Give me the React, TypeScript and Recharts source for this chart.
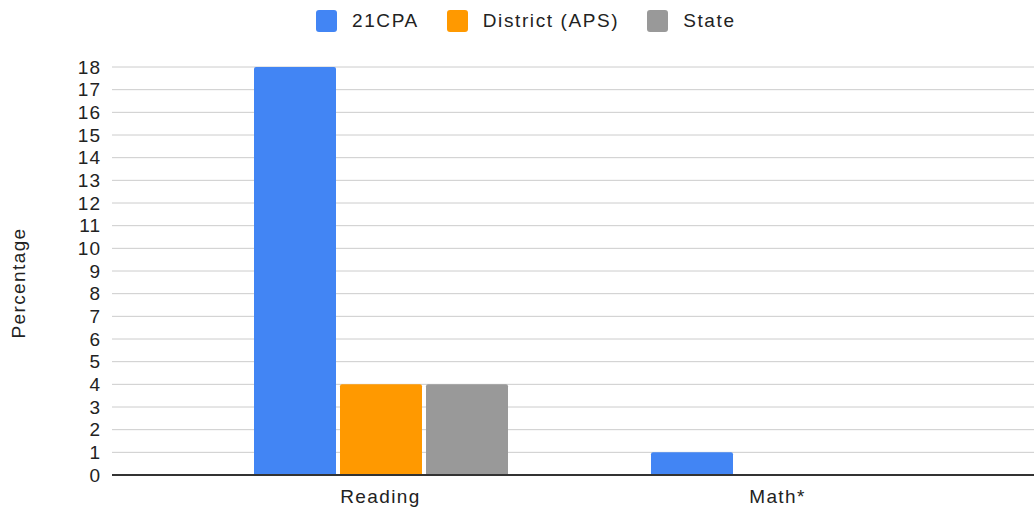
import React from "react";
import { BarChart, Bar, XAxis, YAxis, CartesianGrid, Label } from "recharts";

const categories = ["Reading", "Math*"];
const cpa21 = [18, 1];
const district = [4, 0];
const state = [4, 0];
const yTicks = [0, 1, 2, 3, 4, 5, 6, 7, 8, 9, 10, 11, 12, 13, 14, 15, 16, 17, 18];

const series = [
  { key: "cpa21", name: "21CPA", color: "#4285f4", values: cpa21 },
  { key: "district", name: "District (APS)", color: "#ff9900", values: district },
  { key: "state", name: "State", color: "#999999", values: state },
];

const data = categories.map((c, i) => {
  const row: Record<string, string | number> = { category: c };
  series.forEach((s) => (row[s.key] = s.values[i]));
  return row;
});

const font = "Arial, 'Liberation Sans', sans-serif";
const textStyle = { fontSize: 19, letterSpacing: 1.4, fill: "#222", fontFamily: font };

export default function App() {
  return (
    <div style={{ position: "absolute", left: 0, top: 0, width: 1034, height: 513, background: "#fff" }}>
      {/* legend, top centre */}
      <div
        style={{
          position: "absolute",
          top: 10,
          left: 316,
          display: "flex",
          alignItems: "center",
          fontFamily: font,
          fontSize: 19,
          letterSpacing: 1.6,
          color: "#222",
          whiteSpace: "nowrap",
        }}
      >
        {series.map((s, i) => (
          <div key={s.key} style={{ display: "flex", alignItems: "center", marginRight: i < series.length - 1 ? 28 : 0 }}>
            <span style={{ width: 21, height: 22, background: s.color, borderRadius: 3, marginRight: 15, display: "inline-block" }} />
            <span>{s.name}</span>
          </div>
        ))}
      </div>
      <BarChart
        width={1034}
        height={513}
        data={data}
        margin={{ top: 67, right: 0, bottom: 0, left: 0 }}
        barSize={82}
        barGap={4}
      >
        <CartesianGrid vertical={false} stroke="#cccccc" />
        <XAxis
          dataKey="category"
          height={38}
          padding={{ left: 70, right: 58 }}
          tickLine={false}
          tickSize={6}
          tickMargin={9}
          axisLine={{ stroke: "#333333", strokeWidth: 2 }}
          tick={textStyle}
        />
        <YAxis
          width={112}
          domain={[0, 18]}
          ticks={yTicks}
          interval={0}
          axisLine={false}
          tickLine={false}
          tickSize={6}
          tickMargin={5}
          tick={{ ...textStyle, letterSpacing: 1 }}
        >
          <Label
            value="Percentage"
            angle={-90}
            position="center"
            dx={-38}
            dy={12}
            style={{ ...textStyle, textAnchor: "middle" }}
          />
        </YAxis>
        {series.map((s) => (
          <Bar key={s.key} dataKey={s.key} name={s.name} fill={s.color} radius={[2, 2, 0, 0]} isAnimationActive={false} />
        ))}
      </BarChart>
    </div>
  );
}
